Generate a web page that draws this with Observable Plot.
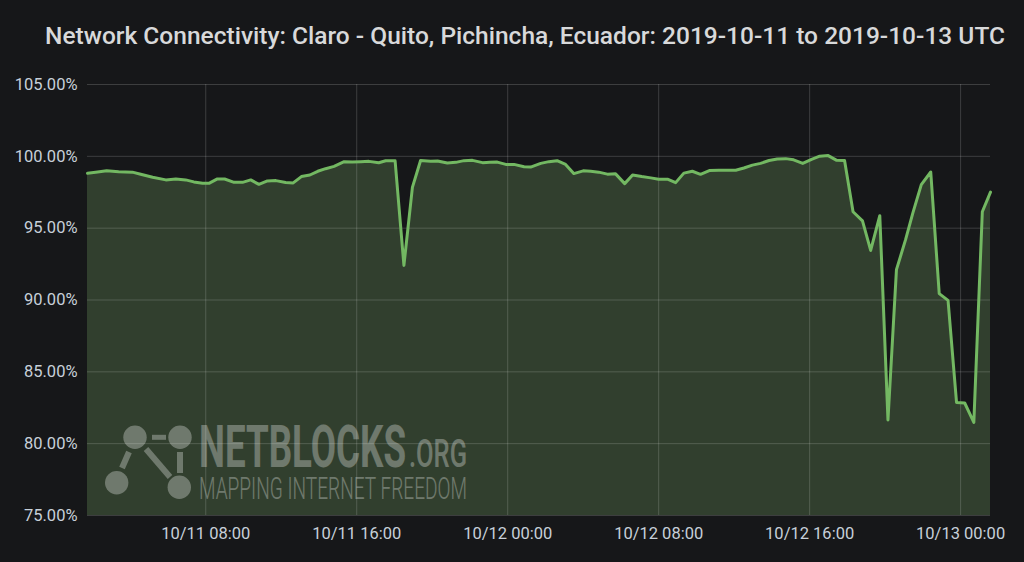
<!DOCTYPE html>
<html>
<head>
<meta charset="utf-8">
<script src="https://cdn.jsdelivr.net/npm/d3@7"></script>
<script src="https://cdn.jsdelivr.net/npm/@observablehq/plot@0.6"></script>
<style>
  html, body { margin: 0; padding: 0; background: #161719; }
  #wrap { position: relative; width: 1024px; height: 562px; overflow: hidden; font-family: Roboto, sans-serif; }
  #head { display: block; }
  #chart svg { display: block; }
  #wm { position: absolute; left: 0; top: 0; pointer-events: none; }
</style>
</head>
<body>
<div id="wrap">
  <svg id="head" width="1024" height="66">
    <text x="45" y="43.5" font-family="Roboto, sans-serif" font-size="23" font-weight="500" fill="#d8d9da"
      textLength="960" lengthAdjust="spacingAndGlyphs">Network Connectivity: Claro - Quito, Pichincha, Ecuador: 2019-10-11 to 2019-10-13 UTC</text>
  </svg>
  <div id="chart"></div>
  <svg id="wm" width="1024" height="562">
    <g opacity="0.3" fill="#ffffff" stroke="#ffffff">
      <line x1="152" y1="437.3" x2="166" y2="437.3" stroke-width="5"/>
      <line x1="129" y1="452" x2="122" y2="468" stroke-width="6"/>
      <line x1="146" y1="449" x2="170" y2="477" stroke-width="6"/>
      <line x1="180" y1="452" x2="180" y2="473" stroke-width="6"/>
      <circle cx="135" cy="437.3" r="11.7" stroke="none"/>
      <circle cx="180" cy="437.3" r="11.7" stroke="none"/>
      <circle cx="116.7" cy="482.7" r="11.7" stroke="none"/>
      <circle cx="179.3" cy="487.3" r="11.7" stroke="none"/>
      <text x="199" y="467" font-family="Roboto, sans-serif" font-weight="700" font-size="59" stroke="none"
        textLength="207" lengthAdjust="spacingAndGlyphs">NETBLOCKS</text>
      <text x="409" y="467" font-family="Roboto, sans-serif" font-weight="500" font-size="39" stroke="none"
        textLength="58" lengthAdjust="spacingAndGlyphs">.ORG</text>
      <text x="199" y="499" font-family="Roboto, sans-serif" font-weight="300" font-size="31" stroke="none"
        textLength="268" lengthAdjust="spacingAndGlyphs">MAPPING INTERNET FREEDOM</text>
    </g>
  </svg>
</div>
<script>
// Sample times (UTC) and connectivity values (%)
const times = [
  "2019-10-11T01:44Z","2019-10-11T02:10Z","2019-10-11T02:45Z","2019-10-11T03:23Z","2019-10-11T04:07Z",
  "2019-10-11T04:33Z","2019-10-11T05:11Z","2019-10-11T05:53Z","2019-10-11T06:25Z","2019-10-11T06:56Z",
  "2019-10-11T07:22Z","2019-10-11T07:50Z","2019-10-11T08:10Z","2019-10-11T08:37Z","2019-10-11T09:00Z",
  "2019-10-11T09:30Z","2019-10-11T09:57Z","2019-10-11T10:23Z","2019-10-11T10:49Z","2019-10-11T11:16Z",
  "2019-10-11T11:43Z","2019-10-11T12:14Z","2019-10-11T12:38Z","2019-10-11T13:04Z","2019-10-11T13:31Z",
  "2019-10-11T13:56Z","2019-10-11T14:21Z","2019-10-11T14:48Z","2019-10-11T15:20Z","2019-10-11T15:46Z",
  "2019-10-11T16:13Z","2019-10-11T16:39Z","2019-10-11T17:10Z","2019-10-11T17:32Z","2019-10-11T18:02Z",
  "2019-10-11T18:30Z","2019-10-11T18:57Z","2019-10-11T19:23Z","2019-10-11T19:55Z","2019-10-11T20:17Z",
  "2019-10-11T20:48Z","2019-10-11T21:15Z","2019-10-11T21:41Z","2019-10-11T22:08Z","2019-10-11T22:40Z",
  "2019-10-11T23:03Z","2019-10-11T23:27Z","2019-10-11T23:54Z",
  "2019-10-12T00:20Z","2019-10-12T00:52Z","2019-10-12T01:13Z","2019-10-12T01:45Z","2019-10-12T02:11Z",
  "2019-10-12T02:37Z","2019-10-12T03:04Z","2019-10-12T03:30Z","2019-10-12T04:00Z","2019-10-12T04:24Z",
  "2019-10-12T04:49Z","2019-10-12T05:17Z","2019-10-12T05:43Z","2019-10-12T06:12Z","2019-10-12T06:37Z",
  "2019-10-12T07:06Z","2019-10-12T07:35Z","2019-10-12T08:00Z","2019-10-12T08:28Z","2019-10-12T08:54Z",
  "2019-10-12T09:20Z","2019-10-12T09:47Z","2019-10-12T10:13Z","2019-10-12T10:41Z","2019-10-12T11:11Z",
  "2019-10-12T11:38Z","2019-10-12T12:05Z","2019-10-12T12:31Z","2019-10-12T12:58Z","2019-10-12T13:24Z",
  "2019-10-12T13:51Z","2019-10-12T14:17Z","2019-10-12T14:44Z","2019-10-12T15:09Z","2019-10-12T15:38Z",
  "2019-10-12T16:06Z","2019-10-12T16:32Z","2019-10-12T16:59Z","2019-10-12T17:26Z","2019-10-12T17:51Z",
  "2019-10-12T18:18Z","2019-10-12T18:48Z","2019-10-12T19:14Z","2019-10-12T19:43Z","2019-10-12T20:09Z",
  "2019-10-12T20:36Z","2019-10-12T21:05Z","2019-10-12T21:28Z","2019-10-12T21:55Z","2019-10-12T22:25Z",
  "2019-10-12T22:52Z","2019-10-12T23:20Z","2019-10-12T23:47Z",
  "2019-10-13T00:13Z","2019-10-13T00:42Z","2019-10-13T01:09Z","2019-10-13T01:35Z"
];
const connectivity = [
  98.82, 98.89, 99.00, 98.92, 98.90,
  98.75, 98.54, 98.36, 98.43, 98.36,
  98.22, 98.12, 98.12, 98.43, 98.42,
  98.19, 98.19, 98.36, 98.05, 98.29,
  98.31, 98.18, 98.15, 98.59, 98.70,
  98.96, 99.14, 99.30, 99.63, 99.60,
  99.63, 99.65, 99.55, 99.69, 99.69,
  92.41, 97.84, 99.71, 99.65, 99.67,
  99.53, 99.58, 99.70, 99.72, 99.56,
  99.58, 99.60, 99.44,
  99.44, 99.28, 99.25, 99.51, 99.63,
  99.70, 99.44, 98.80, 98.99, 98.96,
  98.90, 98.76, 98.78, 98.10, 98.70,
  98.59, 98.50, 98.41, 98.41, 98.17,
  98.83, 98.96, 98.75, 99.01, 99.03,
  99.03, 99.03, 99.19, 99.39, 99.51,
  99.71, 99.81, 99.84, 99.76, 99.51,
  99.79, 100.01, 100.05, 99.72, 99.71,
  96.14, 95.51, 93.45, 95.87, 81.65,
  92.11, 94.20, 96.05, 98.03, 98.91,
  90.44, 89.97, 82.87,
  82.83, 81.48, 96.14, 97.51
];
const yTicks = [75, 80, 85, 90, 95, 100, 105];
const xTicks = ["2019-10-11T08:00Z", "2019-10-11T16:00Z", "2019-10-12T00:00Z",
                "2019-10-12T08:00Z", "2019-10-12T16:00Z", "2019-10-13T00:00Z"];

const data = times.map((t, i) => ({t: new Date(t), v: connectivity[i]}));
const xTickDates = xTicks.map(t => new Date(t));
const fmtX = d3.utcFormat("%m/%d %H:%M");
const yMin = yTicks[0];

const chart = Plot.plot({
  width: 1024,
  height: 496,
  marginTop: 18,
  marginBottom: 47,
  marginLeft: 87,
  marginRight: 34,
  style: {background: "#161719", color: "#c7d0d9", fontFamily: "Roboto, sans-serif", fontSize: "16.5px"},
  x: {type: "utc", domain: d3.extent(data, d => d.t), label: null},
  y: {domain: [yTicks[0], yTicks[yTicks.length - 1]], label: null},
  marks: [
    Plot.areaY(data, {x: "t", y1: () => yMin, y2: "v", fill: "#7eb26d", fillOpacity: 0.26}),
    Plot.gridY(yTicks, {stroke: "#ffffff", strokeOpacity: 0.17}),
    Plot.gridX(xTickDates, {stroke: "#ffffff", strokeOpacity: 0.17}),
    Plot.lineY(data, {x: "t", y: "v", stroke: "#73b862", strokeWidth: 3}),
    Plot.axisY(yTicks, {tickSize: 0, tickPadding: 10, tickFormat: d => d.toFixed(2) + "%", fontSize: 16.5, label: null}),
    Plot.axisX(xTickDates, {tickSize: 0, tickPadding: 12, tickFormat: fmtX, fontSize: 16.5, label: null})
  ]
});
document.getElementById("chart").appendChild(chart);
</script>
</body>
</html>
